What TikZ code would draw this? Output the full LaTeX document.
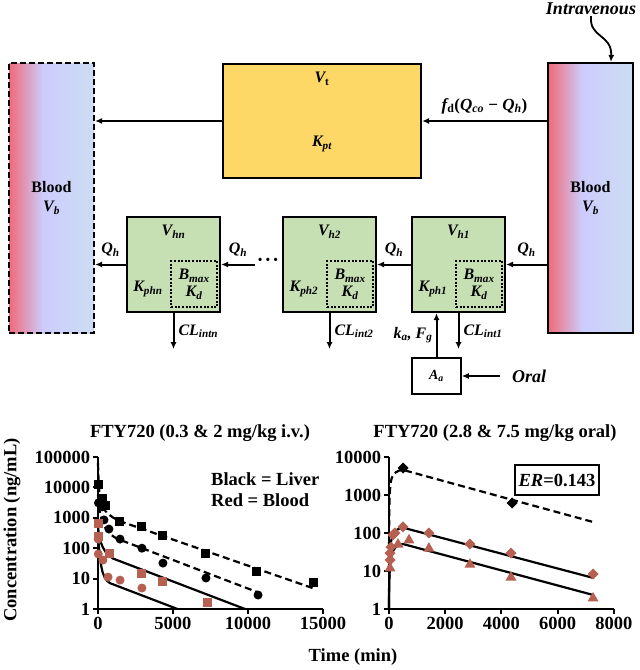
\documentclass[tikz,border=0pt]{standalone}
\usepackage{fontspec}
\setmainfont{Liberation Serif}
\usetikzlibrary{calc,arrows.meta}

\definecolor{bloodred}{RGB}{240,106,120}
\definecolor{bloodlav}{RGB}{204,204,252}
\definecolor{bloodblue}{RGB}{204,221,243}
\definecolor{tisyellow}{RGB}{254,216,102}
\definecolor{hepgreen}{RGB}{198,224,180}
\definecolor{ptred}{RGB}{181,96,80}
\pgfdeclarehorizontalshading{bloodgrad}{100bp}{color(0bp)=(bloodred); color(25bp)=(bloodred); color(45bp)=(bloodlav); color(75bp)=(bloodblue); color(100bp)=(bloodblue)}

\newcommand{\pk}[2]{{\itshape #1}\textsubscript{\itshape #2}}

\begin{document}
\begin{tikzpicture}[x=1pt,y=-1pt,>={Latex[length=7pt,width=6pt]},
  box/.style={draw, line width=2.2pt, inner sep=0pt},
  bloodbox/.style={box, shading=bloodgrad, minimum width=85pt, minimum height=270pt, align=center, font=\fontsize{16}{19}\selectfont\bfseries},
  hepbox/.style={box, fill=hepgreen, minimum width=93pt, minimum height=95pt},
  bindbox/.style={draw, line width=2pt, dash pattern=on 2pt off 1.6pt, minimum size=46pt, inner sep=0pt, align=center, font=\fontsize{16}{17}\selectfont\bfseries},
  lbl/.style={font=\fontsize{16}{18}\selectfont\bfseries\itshape, inner sep=2pt},
  big/.style={font=\fontsize{18}{20}\selectfont\bfseries\itshape, inner sep=1pt},
  flow/.style={->, line width=2pt},
  axis/.style={line width=2pt},
  curve/.style={line width=2.2pt},
  dashcurve/.style={line width=2.2pt, dash pattern=on 7pt off 4pt},
  txt/.style={font=\fontsize{18.5}{21}\selectfont\bfseries, inner sep=1pt}]
\useasboundingbox (0,0) rectangle (640,670);

% compartments
\node[bloodbox, dash pattern=on 6pt off 3pt] (lblood) at (51.5,198) {Blood\\\pk{V}{b}};
\node[bloodbox] (rblood) at (590.5,198) {Blood\\\pk{V}{b}};
\node[box, fill=tisyellow, minimum width=198pt, minimum height=114pt] (tissue) at (322,121) {};
\node[lbl] (vt) at ($(tissue.north)+(0,16)$) {V\textsubscript{\upshape t}};
\node[lbl] (kpt) at ($(tissue.south)+(0,-35)$) {\pk{K}{pt}};

% liver sub-compartments
\foreach \nm/\x in {n/173.5, 2/329.5, 1/458.5} {
  \node[hepbox] (hep\nm) at (\x,264.5) {};
  \node[lbl] (v\nm) at ($(hep\nm.north)+(0,16)$) {\pk{V}{h\nm}};
  \node[lbl] (k\nm) at ($(hep\nm.south west)+(22,-24)$) {\pk{K}{ph\nm}};
  \node[bindbox, anchor=south east] (bind\nm) at ($(hep\nm.south east)+(-3,-5)$) {\pk{B}{max}\\\pk{K}{d}};
  \draw[flow] (hep\nm.south) -- ++(0,36) node[lbl, midway, right=2pt] (cl\nm) {\pk{CL}{int\nm}};
}

% flows
\draw[flow] (rblood.west |- tissue.east) -- node[lbl, font=\fontsize{17}{19}\selectfont\bfseries\itshape, above=4pt] (fd) {f\textsubscript{\upshape d}{\upshape(}\pk{Q}{co} {\upshape −} \pk{Q}{h}{\upshape)}} (tissue.east);
\draw[flow] (tissue.west) -- (lblood.east |- tissue.west);
\draw[flow] (rblood.west |- hep1.east) -- node[lbl, above=5pt] (q1) {\pk{Q}{h}} (hep1.east);
\draw[flow] (hep1.west) -- node[lbl, above=5pt] (q2) {\pk{Q}{h}} (hep2.east);
\node[font=\fontsize{20}{20}\selectfont\bfseries, inner sep=2pt] (etc) at (268,262) {·\kern1pt·\kern1pt·};
\draw[flow] (etc.west |- hepn.east) -- node[lbl, above=5pt] (q3) {\pk{Q}{h}} (hepn.east);
\draw[flow] (hepn.west) -- node[lbl, above=5pt] (q4) {\pk{Q}{h}} (lblood.east |- hepn.west);

% dosing
\node[box, line width=1.6pt, minimum width=49pt, minimum height=36pt, font=\fontsize{14}{15}\selectfont\bfseries] (absorb) at (436.5,376) {\pk{A}{a}};
\draw[flow] (absorb.north) -- node[lbl, left=1pt] (kafg) {\pk{k}{a}, \pk{F}{g}} (absorb.north |- hep1.south);
\node[big, anchor=west] (oral) at (511,376) {Oral};
\draw[flow] ($(oral.west)+(-11,0)$) -- (absorb.east);
\node[big] (iv) at (591,9) {Intravenous};
\coordinate (ivin) at ($(rblood.north)+(20.5,0)$);
\draw[->, line width=1.8pt] (iv.south) .. controls +(-2,22) and +(1,-28) .. (ivin);

% left plot: i.v.
\node[txt] (ttlA) at (200,433) {FTY720 (0.3 \& 2 mg/kg i.v.)};
\node[txt, anchor=west, align=left] (legA) at (210,489.5) {Black = Liver\\Red = Blood};
\node[txt, rotate=90] (ylab) at (12,530) {Concentration (ng/mL)};
\node[txt] (xlab) at (353,657) {Time (min)};
\begin{scope}[shift={(98,609)}, x=0.015pt, y=30.4pt]
  \draw[axis] (0,5) -- (0,0) -- (15000,0);
  \foreach \e/\v in {0/1,1/10,2/100,3/1000,4/10000,5/100000}
    \draw[axis] (0,\e) -- ++(-5pt,0pt) node[txt, left=1pt] (ya\e) {\v};
  \foreach \t in {0,5000,10000,15000}
    \draw[axis] (\t,0) -- ++(0pt,-5pt) node[txt, below=1pt] (xa\t) {\t};
  \draw[dashcurve] plot coordinates {(0,4.8) (20,4.45) (50,4.1) (100,3.8) (200,3.52) (350,3.33) (500,3.22) (700,3.12) (1000,3.01) (1400,2.9) (14300,0.69)};
  \draw[dashcurve] plot coordinates {(0,3.75) (30,3.5) (80,3.3) (160,3.1) (250,2.95) (400,2.75) (600,2.58) (900,2.43) (1200,2.33) (1500,2.27) (10600,0.56)};
  \draw[curve] plot coordinates {(0,2.7) (60,2.45) (150,2.25) (300,2.05) (500,1.88) (700,1.78) (1000,1.66) (9800,0)};
  \draw[curve] plot coordinates {(0,2.4) (50,2.1) (120,1.75) (200,1.45) (300,1.22) (450,1.03) (600,0.93) (800,0.85) (5300,0)};
  \foreach \t/\l in {60/4.08, 270/3.65, 530/3.39, 1400/2.89, 2930/2.70, 4330/2.43, 7200/1.81, 10600/1.25, 14400/0.86}
    \fill (\t,\l) ++(-4.5pt,-4.5pt) rectangle ++(9pt,9pt);
  \foreach \t/\l in {30/3.49, 270/3.36, 400/2.93, 730/2.63, 1470/2.30, 2930/2.0, 4330/1.51, 7200/1.02, 10670/0.46}
    \fill (\t,\l) circle[radius=4.5pt];
  \foreach \t/\l in {0/2.80, 20/2.40, 760/1.83, 2930/1.18, 4330/0.89, 7270/0.20}
    \fill[ptred] (\t,\l) ++(-4.5pt,-4.5pt) rectangle ++(9pt,9pt);
  \foreach \t/\l in {10/2.30, 20/1.81, 330/1.61, 670/1.05, 1470/0.95, 2930/0.69}
    \fill[ptred] (\t,\l) circle[radius=4.5pt];
\end{scope}

% right plot: oral
\node[txt] (ttlB) at (495,433) {FTY720 (2.8 \& 7.5 mg/kg oral)};
\node[txt, draw, line width=1.4pt, minimum width=84pt, minimum height=30pt] (er) at (557,480) {\textit{ER}=0.143};
\begin{scope}[shift={(389,609)}, x=0.0281pt, y=38pt]
  \draw[axis] (0,4) -- (0,0) -- (8000,0);
  \foreach \e/\v in {0/1,1/10,2/100,3/1000,4/10000}
    \draw[axis] (0,\e) -- ++(-5pt,0pt) node[txt, left=1pt] (yb\e) {\v};
  \foreach \t in {0,2000,4000,6000,8000}
    \draw[axis] (\t,0) -- ++(0pt,-5pt) node[txt, below=1pt] (xb\t) {\t};
  \draw[dashcurve] plot coordinates {(0,1.0) (5,2.2) (15,2.8) (30,3.1) (60,3.33) (100,3.45) (160,3.54) (250,3.6) (350,3.64) (500,3.66) (7260,2.29)};
  \draw[curve] plot coordinates {(0,0) (5,0.8) (15,1.25) (30,1.5) (60,1.72) (100,1.87) (160,1.98) (250,2.07) (350,2.11) (500,2.14) (7260,0.82)};
  \draw[curve] plot coordinates {(0,0) (5,0.45) (15,0.82) (30,1.07) (60,1.29) (100,1.44) (160,1.55) (250,1.64) (350,1.68) (500,1.71) (7260,0.37)};
  \foreach \t/\l in {500/3.71, 4380/2.79}
    \fill (\t,\l) ++(0pt,5.5pt) -- ++(5.5pt,-5.5pt) -- ++(-5.5pt,-5.5pt) -- ++(-5.5pt,5.5pt) -- cycle;
  \foreach \t/\l in {36/1.29, 36/1.47, 70/1.63, 140/1.95, 210/2.0, 500/2.16, 1420/2.0, 2880/1.71, 4340/1.47, 7260/0.92}
    \fill[ptred] (\t,\l) ++(0pt,5.5pt) -- ++(5.5pt,-5.5pt) -- ++(-5.5pt,-5.5pt) -- ++(-5.5pt,5.5pt) -- cycle;
  \foreach \t/\l in {36/1.08, 320/1.71, 710/1.82, 1420/1.6, 2880/1.18, 4340/0.84, 7260/0.29}
    \fill[ptred] (\t,\l) ++(0pt,6pt) -- ++(5.5pt,-9.5pt) -- ++(-11pt,0pt) -- cycle;
\end{scope}
\end{tikzpicture}
\end{document}
